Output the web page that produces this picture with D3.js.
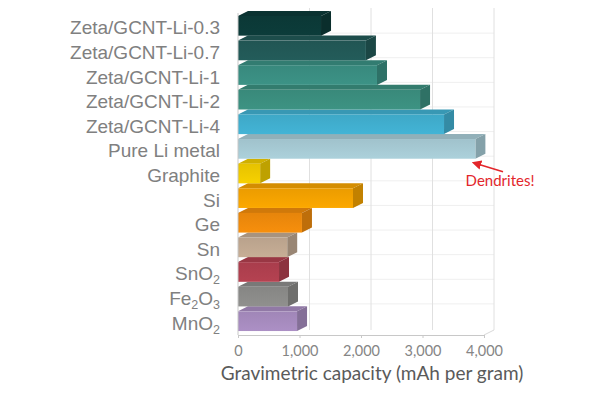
<!DOCTYPE html>
<html>
<head>
<meta charset="utf-8">
<script src="https://cdn.jsdelivr.net/npm/d3@7"></script>
<style>
  html, body { margin: 0; padding: 0; background: #fff; }
  svg { display: block; }
</style>
</head>
<body>
<svg id="chart"></svg>
<script>
// Capacity values (mAh per gram)
const categories = [
  'Zeta/GCNT-Li-0.3', 'Zeta/GCNT-Li-0.7', 'Zeta/GCNT-Li-1', 'Zeta/GCNT-Li-2',
  'Zeta/GCNT-Li-4', 'Pure Li metal', 'Graphite', 'Si', 'Ge', 'Sn',
  'SnO2', 'Fe2O3', 'MnO2'
];
const capacities = [1350, 2080, 2260, 2960, 3350, 3860, 360, 1870, 1040, 800, 667, 813, 960];
const xTicks = [0, 1000, 2000, 3000, 4000];
const xTitle = 'Gravimetric capacity (mAh per gram)';
const note = 'Dendrites!';
const noteTarget = 'Pure Li metal';

// Bar face colours, one per category
const palette = [
  '#0c3a38', '#225957', '#3a8f82', '#3b8f7f', '#41afd0', '#a7cbd5',
  '#f0cb00', '#f5a300', '#f08b0c', '#c1a992', '#b0404f', '#8c8c8a', '#a78cbf'
];

const width = 598, height = 400;
const depthX = 10, depthY = 5;   // 3D offset of the back plane

const svg = d3.select('#chart')
  .attr('width', width)
  .attr('height', height);

const x = d3.scaleLinear().domain([0, 4000]).range([238, 484]);
const y = d3.scaleBand().domain(categories).range([13.5, 333.5])
  .paddingInner(0.2).paddingOuter(0.1);

const floorY = 335;
const wallTop = 8;

// Back wall gridlines (vertical at ticks, horizontal at category boundaries)
const grid = svg.append('g');
grid.selectAll('line.h')
  .data(d3.range(1, categories.length))
  .enter().append('line')
  .attr('x1', x(0) + depthX).attr('x2', x(4000) + depthX)
  .attr('y1', i => y.range()[0] + i * y.step() - depthY)
  .attr('y2', i => y.range()[0] + i * y.step() - depthY)
  .attr('stroke', '#efefef').attr('stroke-width', 1);

grid.selectAll('line.v')
  .data(xTicks.slice(1))
  .enter().append('line')
  .attr('x1', d => x(d) + depthX).attr('x2', d => x(d) + depthX)
  .attr('y1', wallTop).attr('y2', floorY - depthY)
  .attr('stroke', '#e0e0e0').attr('stroke-width', 1);

// Floor edge to back
svg.append('path')
  .attr('d', `M${x(4000)},${floorY}L${x(4000) + depthX},${floorY - depthY}`)
  .attr('stroke', '#d9d9d9').attr('fill', 'none');

// Gradients for the bar fronts
const defs = svg.append('defs');
palette.forEach((c, i) => {
  const g = defs.append('linearGradient')
    .attr('id', 'front' + i)
    .attr('x1', 0).attr('y1', 0).attr('x2', 0).attr('y2', 1);
  g.append('stop').attr('offset', '0%').attr('stop-color', d3.color(c).darker(0.12));
  g.append('stop').attr('offset', '100%').attr('stop-color', d3.color(c).brighter(0.08));
});

defs.append('marker')
  .attr('id', 'arrow')
  .attr('viewBox', '0 0 10 10')
  .attr('refX', 1).attr('refY', 5)
  .attr('markerWidth', 6).attr('markerHeight', 6)
  .attr('orient', 'auto-start-reverse')
  .append('path')
  .attr('d', 'M0,0L10,5L0,10z')
  .attr('fill', '#e3262b');

// Bars, drawn bottom-up so upper bars sit on top
const rows = categories.map((name, i) => ({ name, value: capacities[i], color: palette[i], i }));

const bar = svg.append('g')
  .selectAll('g.bar')
  .data(rows.slice().reverse())
  .enter().append('g')
  .attr('class', 'bar');

bar.append('path') // top face
  .attr('d', d => {
    const x0 = x(0), x1 = x(d.value), yt = y(d.name);
    return `M${x0},${yt}L${x1},${yt}L${x1 + depthX},${yt - depthY}L${x0 + depthX},${yt - depthY}Z`;
  })
  .attr('fill', d => d3.color(d.color).darker(0.4));

bar.append('path') // side face
  .attr('d', d => {
    const x1 = x(d.value), yt = y(d.name), yb = yt + y.bandwidth();
    return `M${x1},${yt}L${x1 + depthX},${yt - depthY}L${x1 + depthX},${yb - depthY}L${x1},${yb}Z`;
  })
  .attr('fill', d => d3.color(d.color).darker(0.65));

bar.append('rect') // front face
  .attr('x', x(0))
  .attr('y', d => y(d.name))
  .attr('width', d => x(d.value) - x(0))
  .attr('height', y.bandwidth())
  .attr('fill', d => `url(#front${d.i})`);

// Left edge of the plot
svg.append('line')
  .attr('x1', x(0)).attr('x2', x(0))
  .attr('y1', 13).attr('y2', floorY)
  .attr('stroke', '#c8c8c8').attr('stroke-width', 1);

// X axis
const xAxis = svg.append('g')
  .attr('transform', `translate(0,${floorY})`)
  .call(d3.axisBottom(x).tickValues(xTicks).tickFormat(d3.format(',')).tickSize(3).tickPadding(8));
xAxis.select('.domain').attr('stroke', '#c8c8c8');
xAxis.selectAll('.tick line').attr('stroke', '#c8c8c8');
xAxis.selectAll('.tick text')
  .attr('fill', '#858585')
  .style('font-family', 'Lato, "Open Sans", sans-serif')
  .style('font-size', '14.5px');

svg.append('text')
  .attr('x', 372).attr('y', 380)
  .attr('text-anchor', 'middle')
  .attr('fill', '#5a5a5a')
  .style('font-family', 'Lato, "Open Sans", sans-serif')
  .style('font-size', '19px')
  .text(xTitle);

// Category labels, digits in formulas as subscripts
const labels = svg.append('g')
  .selectAll('text')
  .data(categories)
  .enter().append('text')
  .attr('x', 220)
  .attr('y', d => y(d) + y.bandwidth() / 2 + 8.5)
  .attr('text-anchor', 'end')
  .attr('fill', '#808080')
  .style('font-family', '"Liberation Sans", Arial, sans-serif')
  .style('font-size', '19px');

labels.each(function(d) {
  const t = d3.select(this);
  if (/[-\s]/.test(d)) { t.text(d); return; }
  let sub = false;
  d.match(/[A-Za-z]+|\d+/g).forEach(part => {
    if (/\d/.test(part)) {
      t.append('tspan').attr('font-size', '12.5px').attr('dy', 4).text(part);
      sub = true;
    } else {
      t.append('tspan').attr('dy', sub ? -4 : 0).text(part);
      sub = false;
    }
  });
});

// Dendrites annotation
const ty = y(noteTarget) + y.bandwidth();
svg.append('line')
  .attr('x1', 503).attr('y1', ty + 13)
  .attr('x2', 480).attr('y2', ty + 6)
  .attr('stroke', '#e3262b').attr('stroke-width', 1.6)
  .attr('marker-end', 'url(#arrow)');

svg.append('text')
  .attr('x', 500).attr('y', ty + 27)
  .attr('text-anchor', 'middle')
  .attr('fill', '#e3262b')
  .style('font-family', 'Lato, "Open Sans", sans-serif')
  .style('font-size', '15px')
  .text(note);
</script>
</body>
</html>
